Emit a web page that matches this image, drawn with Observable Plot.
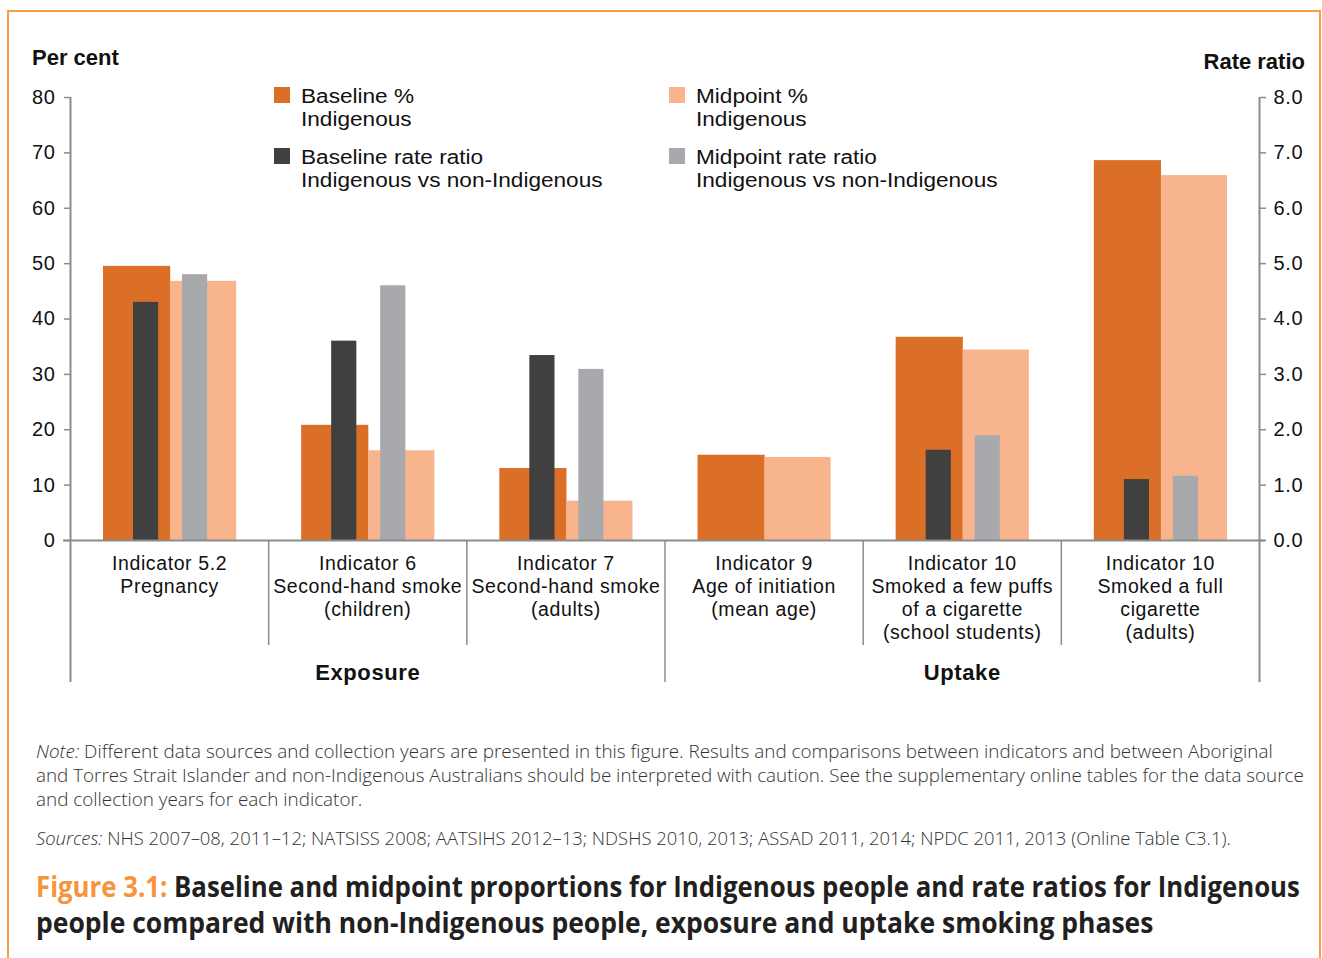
<!DOCTYPE html>
<html>
<head>
<meta charset="utf-8">
<script src="https://cdn.jsdelivr.net/npm/d3@7"></script>
<script src="https://cdn.jsdelivr.net/npm/@observablehq/plot@0.6"></script>
<style>
  html, body { margin: 0; padding: 0; background: #fff; }
  #page { position: relative; width: 1322px; height: 958px; overflow: hidden; font-family: "Liberation Sans", Arial, sans-serif; color: #1a1a1a; }
  #frame { position: absolute; left: 7px; top: 10px; width: 1314px; height: 1000px; box-sizing: border-box; border: 2px solid #F79B45; border-bottom: none; }
  #chart { position: absolute; left: 0; top: 0; }
  #chart svg text { letter-spacing: 0.6px; }
  .axis-title { position: absolute; font-weight: bold; font-size: 22px; line-height: 22px; white-space: nowrap; color: #111; }
  .leg-item { position: absolute; }
  .leg-swatch { position: absolute; width: 16px; height: 16px; }
  .leg-text { position: absolute; left: 27px; top: 0; font-size: 20px; line-height: 23px; white-space: nowrap; transform: scaleX(1.13); transform-origin: 0 0; color: #111; }
  .tline { position: absolute; left: 36px; white-space: nowrap; transform-origin: 0 0; }
  .tline span.inner { display: inline-block; }
  .note { font-family: "Open Sans", "Noto Sans", sans-serif; font-weight: 300; font-size: 18px; line-height: 24px; color: #333; }
  .cap { font-family: "Open Sans", "Noto Sans", sans-serif; font-weight: 700; font-size: 28px; line-height: 36px; color: #231F20; }
  .cap .fig { color: #F7943B; }
</style>
</head>
<body>
<div id="page">
  <div id="frame"></div>
  <div id="chart"></div>
  <div class="axis-title" style="left:32px; top:47px;">Per cent</div>
  <div class="axis-title" style="right:17px; top:51px;">Rate ratio</div>
  <div id="legend"></div>

  <div class="tline note" data-block="note" data-ref="1" data-target="1237" style="top:739px;"><span class="inner"><i>Note:</i> Different data sources and collection years are presented in this figure. Results and comparisons between indicators and between Aboriginal</span></div>
  <div class="tline note" data-block="note" data-target="1268" style="top:763px;"><span class="inner">and Torres Strait Islander and non-Indigenous Australians should be interpreted with caution. See the supplementary online tables for the data source</span></div>
  <div class="tline note" data-block="note" style="top:787px;"><span class="inner">and collection years for each indicator.</span></div>
  <div class="tline note" data-block="note" data-target="1195" style="top:826px;"><span class="inner"><i>Sources:</i> NHS 2007–08, 2011–12; NATSISS 2008; AATSIHS 2012–13; NDSHS 2010, 2013; ASSAD 2011, 2014; NPDC 2011, 2013 (Online Table C3.1).</span></div>
  <div class="tline cap" data-block="cap" data-target="1264" style="top:868px;"><span class="inner"><span class="fig">Figure 3.1:</span> Baseline and midpoint proportions for Indigenous people and rate ratios for Indigenous</span></div>
  <div class="tline cap" data-block="cap" data-ref="1" data-target="1117" style="top:904px;"><span class="inner">people compared with non-Indigenous people, exposure and uptake smoking phases</span></div>
</div>
<script>
// ---- Data ----
const categories = [
  "Indicator 5.2\nPregnancy",
  "Indicator 6\nSecond-hand smoke\n(children)",
  "Indicator 7\nSecond-hand smoke\n(adults)",
  "Indicator 9\nAge of initiation\n(mean age)",
  "Indicator 10\nSmoked a few puffs\nof a cigarette\n(school students)",
  "Indicator 10\nSmoked a full\ncigarette\n(adults)"
];
const phases = ["Exposure", "Exposure", "Exposure", "Uptake", "Uptake", "Uptake"];
const baselinePct = [49.5, 20.8, 13.0, 15.4, 36.7, 68.6];
const midpointPct = [46.8, 16.2, 7.1, 15.0, 34.4, 65.9];
const baselineRR  = [4.3, 3.6, 3.34, null, 1.63, 1.10];
const midpointRR  = [4.8, 4.6, 3.09, null, 1.89, 1.16];
const pctTicks = [0, 10, 20, 30, 40, 50, 60, 70, 80];
const rrTicks  = [0, 1, 2, 3, 4, 5, 6, 7, 8];
const seriesNames = [
  "Baseline %\nIndigenous",
  "Baseline rate ratio\nIndigenous vs non-Indigenous",
  "Midpoint %\nIndigenous",
  "Midpoint rate ratio\nIndigenous vs non-Indigenous"
];
const seriesColors = ["#DB6F27", "#404040", "#F8B48C", "#A8A9AD"];

// ---- Build ----
const RR = pctTicks[pctTicks.length - 1] / rrTicks[rrTicks.length - 1]; // per-cent units per rate-ratio unit
const n = categories.length;
const rows = categories.map((cat, i) => ({
  i, cat, phase: phases[i],
  bp: baselinePct[i], mp: midpointPct[i], brr: baselineRR[i], mrr: midpointRR[i]
}));
const bounds = d3.range(0, n + 1).map(i => ({
  i, outer: i === 0 || i === n, phaseEdge: i > 0 && i < n && phases[i] !== phases[i - 1]
}));
const phaseGroups = d3.groups(rows, d => d.phase).map(([phase, rs]) => ({
  phase, x: d3.mean(rs, r => r.i) + 0.5
}));
const axisGrey = "#8c8c8c";
const x1 = d => d.i, x2 = d => d.i + 1;

const chart = Plot.plot({
  width: 1322,
  height: 700,
  marginTop: 97,
  marginBottom: 160,
  marginLeft: 70,
  marginRight: 63,
  x: {domain: [0, n], axis: null},
  y: {domain: [pctTicks[0], pctTicks[pctTicks.length - 1]]},
  style: {fontFamily: "'Liberation Sans', Arial, sans-serif", fontSize: "20px", color: "#111", background: "transparent", overflow: "visible"},
  marks: [
    Plot.rectY(rows, {x1, x2, y1: 0, y2: "bp", fill: seriesColors[0], insetLeft: 33, insetRight: 98}),
    Plot.rectY(rows, {x1, x2, y1: 0, y2: "mp", fill: seriesColors[2], insetLeft: 100, insetRight: 32}),
    Plot.rectY(rows.filter(d => d.brr != null), {x1, x2, y1: 0, y2: d => d.brr * RR, fill: seriesColors[1], insetLeft: 63, insetRight: 110}),
    Plot.rectY(rows.filter(d => d.mrr != null), {x1, x2, y1: 0, y2: d => d.mrr * RR, fill: seriesColors[3], insetLeft: 112, insetRight: 61}),
    // baseline
    Plot.ruleY([0], {stroke: axisGrey, strokeWidth: 2, insetLeft: -7, insetRight: -6}),
    // separators below the axis
    Plot.ruleX(bounds.filter(b => !b.outer && !b.phaseEdge), {x: "i", y1: 0, y2: 0, insetBottom: -105, stroke: axisGrey, strokeWidth: 1.5}),
    Plot.ruleX(bounds.filter(b => b.phaseEdge), {x: "i", y1: 0, y2: 0, insetBottom: -142, stroke: axisGrey, strokeWidth: 1.5}),
    Plot.ruleX(bounds.filter(b => b.outer), {x: "i", y1: pctTicks[pctTicks.length - 1], y2: 0, insetBottom: -142, stroke: axisGrey, strokeWidth: 2}),
    // axes
    Plot.axisY({anchor: "left", ticks: pctTicks, tickSize: 6, tickPadding: 9, fontSize: 20, stroke: axisGrey, strokeWidth: 1.5, fill: "#111", label: null}),
    Plot.axisY({anchor: "right", ticks: rrTicks.map(r => r * RR), tickFormat: d => (d / RR).toFixed(1), tickSize: 6, tickPadding: 8, fontSize: 20, stroke: axisGrey, strokeWidth: 1.5, fill: "#111", label: null}),
    // category labels
    Plot.text(rows, {x: d => d.i + 0.5, y: 0, text: "cat", lineAnchor: "top", dy: 13, fontSize: 19.5, lineHeight: 1.18, fill: "#111"}),
    // phase labels
    Plot.text(phaseGroups, {x: "x", y: 0, text: "phase", lineAnchor: "top", dy: 124, fontSize: 22, fontWeight: "bold", fill: "#111"})
  ]
});
document.getElementById("chart").appendChild(chart);

// ---- Legend ----
const legendPos = [[274, 85], [274, 146], [669, 85], [669, 146]];
const legend = document.getElementById("legend");
seriesNames.forEach((name, k) => {
  const item = document.createElement("div");
  item.className = "leg-item";
  item.style.left = legendPos[k][0] + "px";
  item.style.top = legendPos[k][1] + "px";
  const sw = document.createElement("div");
  sw.className = "leg-swatch";
  sw.style.background = seriesColors[k];
  sw.style.top = "2px";
  const tx = document.createElement("div");
  tx.className = "leg-text";
  tx.innerHTML = name.split("\n").join("<br>");
  item.appendChild(sw);
  item.appendChild(tx);
  legend.appendChild(item);
});

// ---- Fit text lines horizontally (condensed face emulation) ----
function fit() {
  for (const block of ["note", "cap"]) {
    const lines = [...document.querySelectorAll(`.tline[data-block="${block}"]`)];
    const ref = lines.find(l => l.dataset.ref);
    const kRef = +ref.dataset.target / ref.querySelector(".inner").offsetWidth;
    lines.forEach(l => {
      const inner = l.querySelector(".inner");
      const k = l.dataset.target ? +l.dataset.target / inner.offsetWidth : kRef;
      l.style.transform = `scaleX(${k})`;
    });
  }
}
fit();
if (document.fonts && document.fonts.ready) document.fonts.ready.then(fit);
</script>
</body>
</html>
